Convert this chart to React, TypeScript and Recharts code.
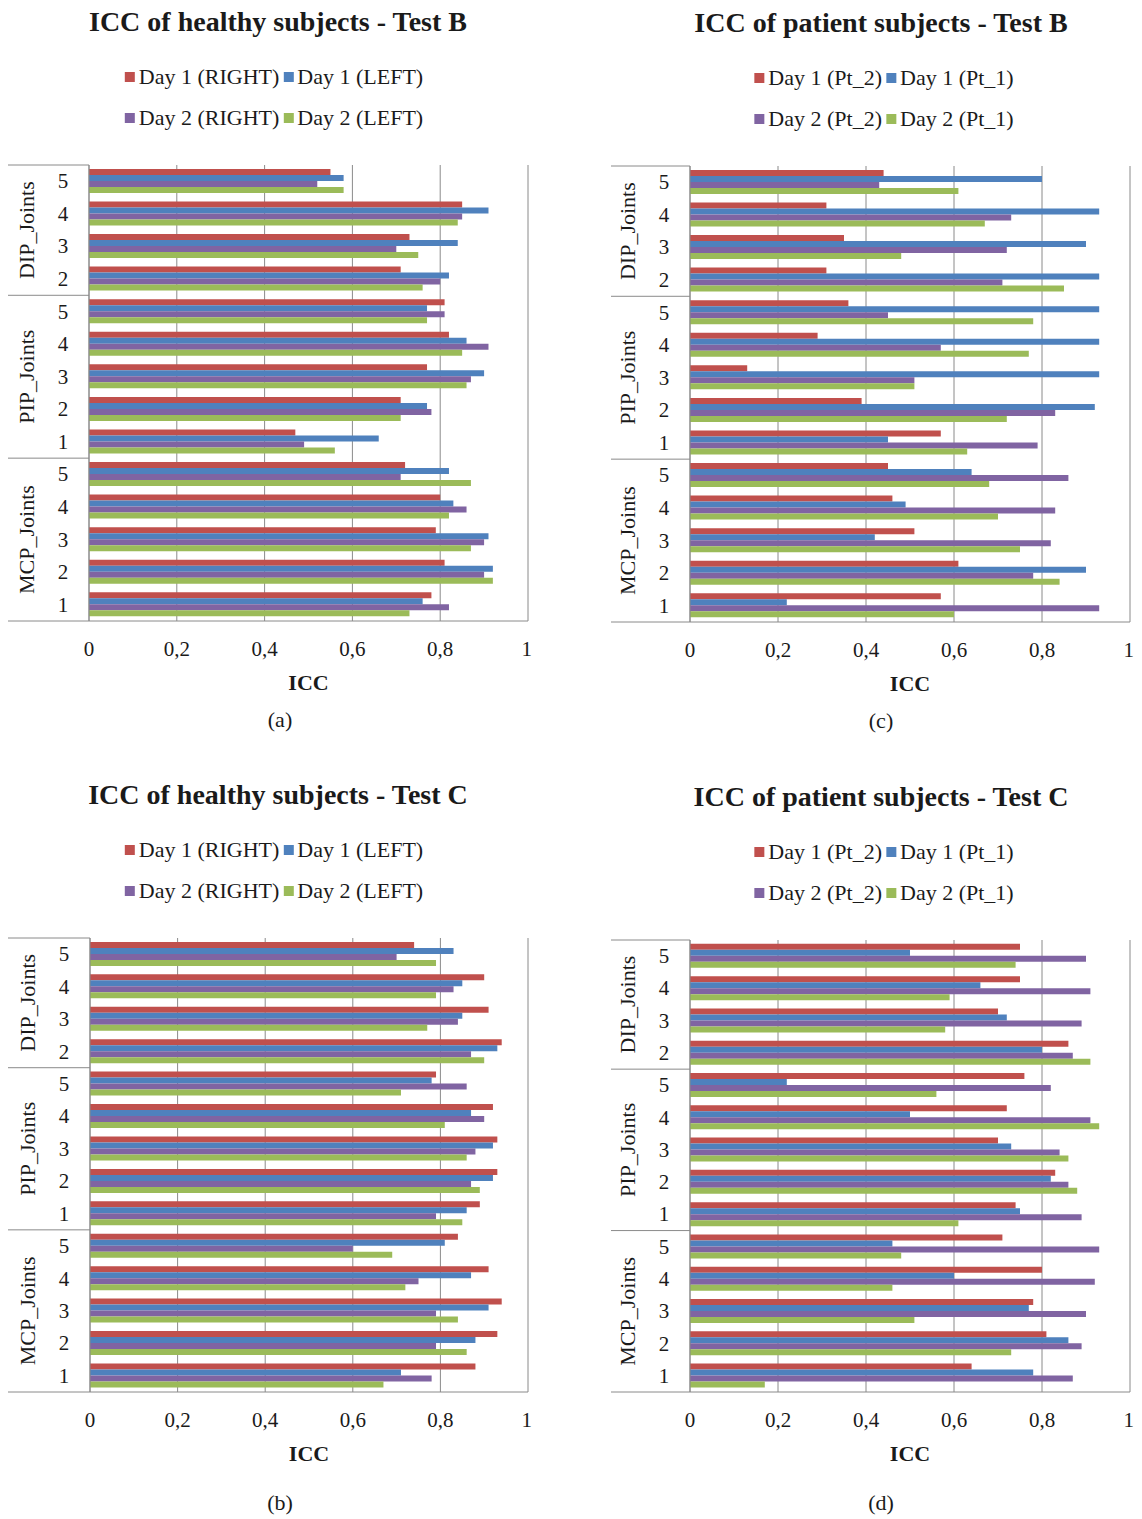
import React from 'react';
import { BarChart, Bar, XAxis, YAxis, CartesianGrid, Legend } from 'recharts';

const groupNames = ['DIP_Joints', 'PIP_Joints', 'MCP_Joints'];
const groupJoints = [[5, 4, 3, 2], [5, 4, 3, 2, 1], [5, 4, 3, 2, 1]];
const iccTicks = [0, 0.2, 0.4, 0.6, 0.8, 1];
const healthyNames = ['Day 1 (RIGHT)', 'Day 1 (LEFT)', 'Day 2 (RIGHT)', 'Day 2 (LEFT)'];
const patientNames = ['Day 1 (Pt_2)', 'Day 1 (Pt_1)', 'Day 2 (Pt_2)', 'Day 2 (Pt_1)'];
const colors = ['#C0504D', '#4F81BD', '#8064A2', '#9BBB59'];

// (a) healthy subjects, test B  (order: DIP 5..2, PIP 5..1, MCP 5..1)
const hbDay1Right = [0.55, 0.85, 0.73, 0.71, 0.81, 0.82, 0.77, 0.71, 0.47, 0.72, 0.80, 0.79, 0.81, 0.78];
const hbDay1Left = [0.58, 0.91, 0.84, 0.82, 0.77, 0.86, 0.90, 0.77, 0.66, 0.82, 0.83, 0.91, 0.92, 0.76];
const hbDay2Right = [0.52, 0.85, 0.70, 0.80, 0.81, 0.91, 0.87, 0.78, 0.49, 0.71, 0.86, 0.90, 0.90, 0.82];
const hbDay2Left = [0.58, 0.84, 0.75, 0.76, 0.77, 0.85, 0.86, 0.71, 0.56, 0.87, 0.82, 0.87, 0.92, 0.73];

// (c) patient subjects, test B
const pbDay1Pt2 = [0.44, 0.31, 0.35, 0.31, 0.36, 0.29, 0.13, 0.39, 0.57, 0.45, 0.46, 0.51, 0.61, 0.57];
const pbDay1Pt1 = [0.80, 0.93, 0.90, 0.93, 0.93, 0.93, 0.93, 0.92, 0.45, 0.64, 0.49, 0.42, 0.90, 0.22];
const pbDay2Pt2 = [0.43, 0.73, 0.72, 0.71, 0.45, 0.57, 0.51, 0.83, 0.79, 0.86, 0.83, 0.82, 0.78, 0.93];
const pbDay2Pt1 = [0.61, 0.67, 0.48, 0.85, 0.78, 0.77, 0.51, 0.72, 0.63, 0.68, 0.70, 0.75, 0.84, 0.60];

// (b) healthy subjects, test C
const hcDay1Right = [0.74, 0.90, 0.91, 0.94, 0.79, 0.92, 0.93, 0.93, 0.89, 0.84, 0.91, 0.94, 0.93, 0.88];
const hcDay1Left = [0.83, 0.85, 0.85, 0.93, 0.78, 0.87, 0.92, 0.92, 0.86, 0.81, 0.87, 0.91, 0.88, 0.71];
const hcDay2Right = [0.70, 0.83, 0.84, 0.87, 0.86, 0.90, 0.88, 0.87, 0.79, 0.60, 0.75, 0.79, 0.79, 0.78];
const hcDay2Left = [0.79, 0.79, 0.77, 0.90, 0.71, 0.81, 0.86, 0.89, 0.85, 0.69, 0.72, 0.84, 0.86, 0.67];

// (d) patient subjects, test C
const pcDay1Pt2 = [0.75, 0.75, 0.70, 0.86, 0.76, 0.72, 0.70, 0.83, 0.74, 0.71, 0.80, 0.78, 0.81, 0.64];
const pcDay1Pt1 = [0.50, 0.66, 0.72, 0.80, 0.22, 0.50, 0.73, 0.82, 0.75, 0.46, 0.60, 0.77, 0.86, 0.78];
const pcDay2Pt2 = [0.90, 0.91, 0.89, 0.87, 0.82, 0.91, 0.84, 0.86, 0.89, 0.93, 0.92, 0.90, 0.89, 0.87];
const pcDay2Pt1 = [0.74, 0.59, 0.58, 0.91, 0.56, 0.93, 0.86, 0.88, 0.61, 0.48, 0.46, 0.51, 0.73, 0.17];

const categories = groupNames.flatMap((g, gi) => groupJoints[gi].map((j) => ({ group: g, joint: j })));

const serif = "'Liberation Serif', 'Times New Roman', serif";
const ink = '#1a1a1a';
const lineGray = '#8a8a8a';
const HEAD = 165;
const AXIS_H = 100;

const JointTick = (props: any) => {
  const { x, y, payload, step, axisW } = props;
  const [group, joint] = String(payload.value).split('|');
  const gi = groupNames.indexOf(group);
  const joints = groupJoints[gi];
  const isFirst = String(joints[0]) === joint;
  const isLast = gi === groupNames.length - 1 && String(joints[joints.length - 1]) === joint;
  return (
    <g>
      <text x={x - 26} y={y} textAnchor="middle" dominantBaseline="central" fontFamily={serif} fontSize={21} fill={ink}>
        {joint}
      </text>
      {isFirst && (
        <line x1={x - axisW} x2={x} y1={y - step / 2} y2={y - step / 2} stroke={lineGray} />
      )}
      {isFirst && (
        <text
          transform={`translate(${x - 63},${y + ((joints.length - 1) * step) / 2}) rotate(-90)`}
          textAnchor="middle"
          dominantBaseline="central"
          fontFamily={serif}
          fontSize={22}
          fill={ink}
        >
          {group}
        </text>
      )}
      {isLast && <line x1={x - axisW} x2={x} y1={y + step / 2} y2={y + step / 2} stroke={lineGray} />}
    </g>
  );
};

const AxisTitle = (props: any) => {
  const vb = props.viewBox || {};
  return (
    <text x={vb.x + vb.width / 2} y={vb.y + 61} textAnchor="middle" dominantBaseline="central" fontFamily={serif} fontSize={22} fontWeight="bold" fill={ink}>
      ICC
    </text>
  );
};

// title + two-row legend, kept in the series order (red, blue / purple, green)
const HeadLegend = (props: any) => {
  const { names, title, titleX, legendX } = props;
  const items = names.map((n: string, i: number) => ({ value: n, color: colors[i] }));
  const rows = [items.slice(0, 2), items.slice(2, 4)];
  return (
    <div style={{ position: 'relative', height: HEAD, fontFamily: serif, color: ink }}>
      <div
        style={{
          position: 'absolute',
          left: titleX,
          top: 22,
          transform: 'translate(-50%, -50%)',
          whiteSpace: 'nowrap',
          fontSize: 28,
          fontWeight: 'bold',
        }}
      >
        {title}
      </div>
      {rows.map((row: any[], ri: number) => (
        <div
          key={ri}
          style={{
            position: 'absolute',
            left: legendX,
            top: ri === 0 ? 77 : 118,
            transform: 'translate(-50%, -50%)',
            whiteSpace: 'nowrap',
            fontSize: 22,
            display: 'flex',
            alignItems: 'center',
          }}
        >
          {row.map((item: any) => (
            <span key={item.value} style={{ display: 'inline-flex', alignItems: 'center', marginRight: 4 }}>
              <span style={{ display: 'inline-block', width: 10, height: 10, background: item.color, marginRight: 4 }} />
              {item.value}
            </span>
          ))}
        </div>
      ))}
    </div>
  );
};

type PanelProps = {
  frameLeft: number;
  axisX: number;
  plotRight: number;
  plotTop: number;
  plotBottom: number;
  titleCx: number;
  legendCx: number;
  title: string;
  names: string[];
  series: number[][];
  letter: string;
  letterCx: number;
  letterY: number;
};

function Panel(p: PanelProps) {
  const data = categories.map((c, i) => ({
    key: `${c.group}|${c.joint}`,
    s0: p.series[0][i],
    s1: p.series[1][i],
    s2: p.series[2][i],
    s3: p.series[3][i],
  }));
  const plotH = p.plotBottom - p.plotTop;
  const step = plotH / categories.length;
  const axisW = p.axisX - p.frameLeft;
  const width = p.plotRight - p.frameLeft + 4;
  const height = HEAD + plotH + AXIS_H;
  const top = p.plotTop - HEAD;
  return (
    <>
      <div style={{ position: 'absolute', left: p.frameLeft, top }}>
        <BarChart
          width={width}
          height={height}
          data={data}
          layout="vertical"
          margin={{ top: 0, right: 4, bottom: 0, left: 0 }}
          barCategoryGap="12%"
          barGap={0}
        >
          <Legend
            verticalAlign="top"
            height={HEAD}
            wrapperStyle={{ left: 0, top: 0, width, height: HEAD }}
            content={() => (
              <HeadLegend names={p.names} title={p.title} titleX={p.titleCx - p.frameLeft} legendX={p.legendCx - p.frameLeft} />
            )}
          />
          <CartesianGrid horizontal={false} stroke={lineGray} />
          <XAxis
            type="number"
            domain={[0, 1]}
            ticks={iccTicks}
            tickFormatter={(v: number) => String(v).replace('.', ',')}
            tickLine={false}
            tickSize={0}
            tickMargin={20}
            axisLine={{ stroke: lineGray }}
            height={AXIS_H}
            tick={{ fontFamily: serif, fontSize: 21, fill: ink }}
            label={<AxisTitle />}
          />
          <YAxis
            type="category"
            dataKey="key"
            width={axisW}
            tickLine={false}
            tickSize={0}
            tickMargin={0}
            axisLine={{ stroke: lineGray }}
            interval={0}
            tick={(tp: any) => <JointTick {...tp} step={step} axisW={axisW} />}
          />
          {p.names.map((n, i) => (
            <Bar key={n} dataKey={`s${i}`} name={n} fill={colors[i]} isAnimationActive={false} />
          ))}
        </BarChart>
      </div>
      <div
        style={{
          position: 'absolute',
          left: p.letterCx,
          top: p.letterY,
          transform: 'translate(-50%, -50%)',
          fontFamily: serif,
          fontSize: 22,
          lineHeight: '24px',
          color: ink,
        }}
      >
        {p.letter}
      </div>
    </>
  );
}

export default function App() {
  return (
    <div style={{ position: 'absolute', left: 0, top: 0, width: 1142, height: 1519, background: '#fff', overflow: 'hidden' }}>
      <Panel
        frameLeft={8}
        axisX={89}
        plotRight={528}
        plotTop={165}
        plotBottom={621}
        titleCx={278}
        legendCx={276}
        title="ICC of healthy subjects - Test B"
        names={healthyNames}
        series={[hbDay1Right, hbDay1Left, hbDay2Right, hbDay2Left]}
        letter="(a)"
        letterCx={280}
        letterY={720}
      />
      <Panel
        frameLeft={611}
        axisX={690}
        plotRight={1130}
        plotTop={166}
        plotBottom={622}
        titleCx={881}
        legendCx={886}
        title="ICC of patient subjects - Test B"
        names={patientNames}
        series={[pbDay1Pt2, pbDay1Pt1, pbDay2Pt2, pbDay2Pt1]}
        letter="(c)"
        letterCx={881}
        letterY={721}
      />
      <Panel
        frameLeft={8}
        axisX={90}
        plotRight={528}
        plotTop={938}
        plotBottom={1392}
        titleCx={278}
        legendCx={276}
        title="ICC of healthy subjects - Test C"
        names={healthyNames}
        series={[hcDay1Right, hcDay1Left, hcDay2Right, hcDay2Left]}
        letter="(b)"
        letterCx={280}
        letterY={1503}
      />
      <Panel
        frameLeft={611}
        axisX={690}
        plotRight={1130}
        plotTop={940}
        plotBottom={1392}
        titleCx={881}
        legendCx={886}
        title="ICC of patient subjects - Test C"
        names={patientNames}
        series={[pcDay1Pt2, pcDay1Pt1, pcDay2Pt2, pcDay2Pt1]}
        letter="(d)"
        letterCx={881}
        letterY={1503}
      />
    </div>
  );
}
